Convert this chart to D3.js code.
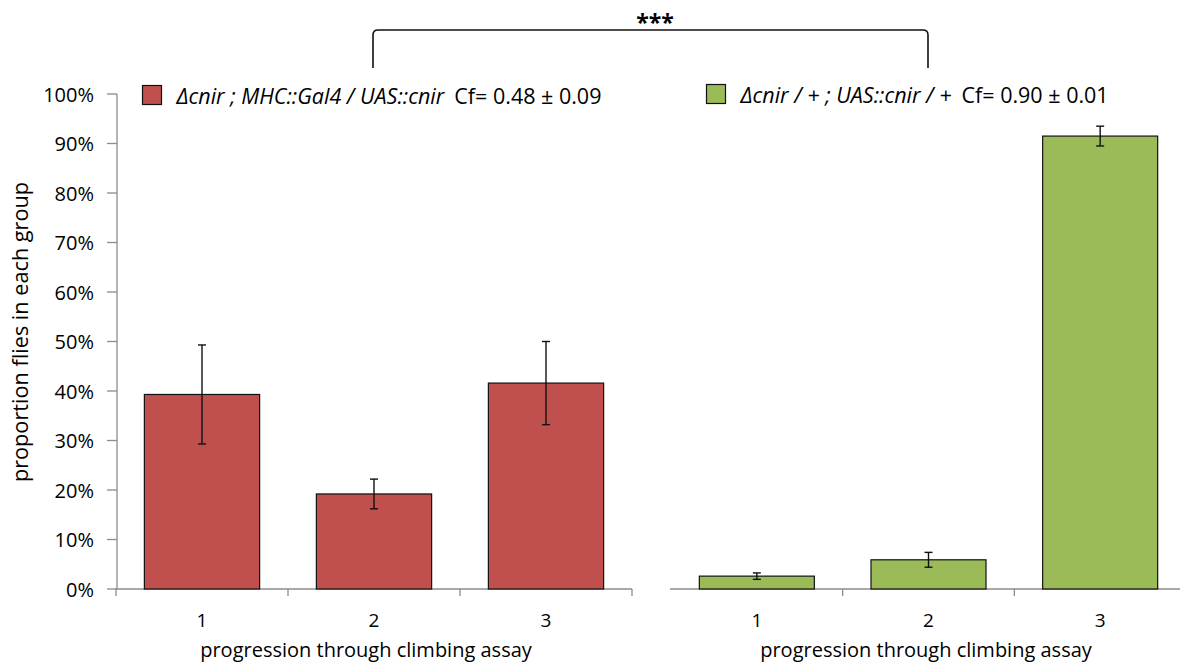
<!DOCTYPE html>
<html><head><meta charset="utf-8">
<script src="https://cdn.jsdelivr.net/npm/d3@7"></script>
<style>
body{margin:0;background:#fff;}
svg text{font-family:"Open Sans",Lato,sans-serif;fill:#000;}
</style></head>
<body><svg id="c" width="1180" height="663"></svg>
<script>
const categories = ["1","2","3"];
const redValues = [0.393, 0.192, 0.416];
const redErrors = [0.100, 0.030, 0.084];
const greenValues = [0.026, 0.059, 0.915];
const greenErrors = [0.0065, 0.015, 0.020];
const yTicks = [0,0.1,0.2,0.3,0.4,0.5,0.6,0.7,0.8,0.9,1.0];
const redLabel = "Δcnir ; MHC::Gal4 / UAS::cnir";
const redStat = "Cf= 0.48 ± 0.09";
const greenLabel = "Δcnir / + ; UAS::cnir / +";
const greenStat = "Cf= 0.90 ± 0.01";
const xTitle = "progression through climbing assay";
const yTitle = "proportion flies in each group";
const sigLabel = "***";

const svg = d3.select("#c");
const y = d3.scaleLinear().domain([0,1]).range([589,94]);
const axisColor = "#8c8c8c";

function panel(x0, x1, values, errors, color, firstTick, titleX){
  const x = d3.scaleBand().domain(categories).range([x0,x1]).paddingInner(0.33).paddingOuter(0.165);
  const g = svg.append("g");
  g.append("line").attr("x1",x0-1).attr("x2",x1).attr("y1",y(0)).attr("y2",y(0))
    .attr("stroke",axisColor).attr("stroke-width",1.3);
  const step = x.step();
  const bounds = d3.range(categories.length+1).map(i => x0 + i*step);
  g.selectAll(".xt").data(bounds.filter((d,i)=> firstTick || i>0)).join("line")
    .attr("x1",d=>d).attr("x2",d=>d).attr("y1",y(0)).attr("y2",y(0)+7)
    .attr("stroke",axisColor).attr("stroke-width",1.3);
  g.selectAll(".bar").data(values).join("rect")
    .attr("x",(d,i)=>x(categories[i])).attr("width",x.bandwidth())
    .attr("y",d=>y(d)).attr("height",d=>y(0)-y(d))
    .attr("fill",color).attr("stroke","#111").attr("stroke-width",1.2);
  const cx = i => x(categories[i]) + x.bandwidth()/2;
  const eb = g.selectAll(".eb").data(values).join("g");
  eb.append("line").attr("x1",(d,i)=>cx(i)).attr("x2",(d,i)=>cx(i))
    .attr("y1",(d,i)=>y(d+errors[i])).attr("y2",(d,i)=>y(d-errors[i])).attr("stroke","#111").attr("stroke-width",1.4);
  [1,-1].forEach(s=>{
    eb.append("line").attr("x1",(d,i)=>cx(i)-4).attr("x2",(d,i)=>cx(i)+4)
      .attr("y1",(d,i)=>y(d+s*errors[i])).attr("y2",(d,i)=>y(d+s*errors[i]))
      .attr("stroke","#111").attr("stroke-width",1.4);
  });
  g.selectAll(".xl").data(categories).join("text")
    .attr("x",d=>x(d)+x.bandwidth()/2).attr("y",627).attr("text-anchor","middle")
    .attr("font-size",19).text(d=>d);
  g.append("text").attr("x",titleX).attr("y",657).attr("text-anchor","middle")
    .attr("font-size",20).text(xTitle);
  return x;
}

// y axis
const ya = svg.append("g");
ya.append("line").attr("x1",117).attr("x2",117).attr("y1",y(1)).attr("y2",y(0)).attr("stroke",axisColor).attr("stroke-width",1.3);
ya.selectAll(".yt").data(yTicks).join("line").attr("x1",107).attr("x2",117)
  .attr("y1",d=>y(d)).attr("y2",d=>y(d)).attr("stroke",axisColor).attr("stroke-width",1.3);
ya.selectAll(".yl").data(yTicks).join("text").attr("x",94).attr("y",d=>y(d)+7.5)
  .attr("text-anchor","end").attr("font-size",20).text(d=>d3.format(".0%")(d));
svg.append("text").attr("transform","translate(28,332) rotate(-90)").attr("text-anchor","middle")
  .attr("font-size",21.7).text(yTitle);

panel(116, 632, redValues, redErrors, "#C0504D", true, 366);
panel(671, 1186, greenValues, greenErrors, "#9BBB59", false, 926);

function legend(xs, ys, color, label, stat){
  svg.append("rect").attr("x",xs).attr("y",ys).attr("width",19).attr("height",19)
    .attr("fill",color).attr("stroke","#111").attr("stroke-width",1.2);
  const t = svg.append("text").attr("x",xs+34).attr("y",ys+18).attr("font-size",21.5);
  t.append("tspan").attr("font-style","italic").text(label);
  t.append("tspan").attr("dx",10).text(stat);
}
legend(142.5, 85.5, "#C0504D", redLabel, redStat);
legend(706.5, 84.5, "#9BBB59", greenLabel, greenStat);

const bx0 = 373, bx1 = 928, by = 30, bBottom = 68, r = 5;
svg.append("path").attr("d",`M${bx0},${bBottom} L${bx0},${by+r} Q${bx0},${by} ${bx0+r},${by} L${bx1-r},${by} Q${bx1},${by} ${bx1},${by+r} L${bx1},${bBottom}`)
  .attr("fill","none").attr("stroke","#111").attr("stroke-width",1.6);
svg.append("text").attr("x",655).attr("y",31).attr("text-anchor","middle")
  .attr("font-size",23).attr("font-weight","bold").text(sigLabel);
</script></body></html>
